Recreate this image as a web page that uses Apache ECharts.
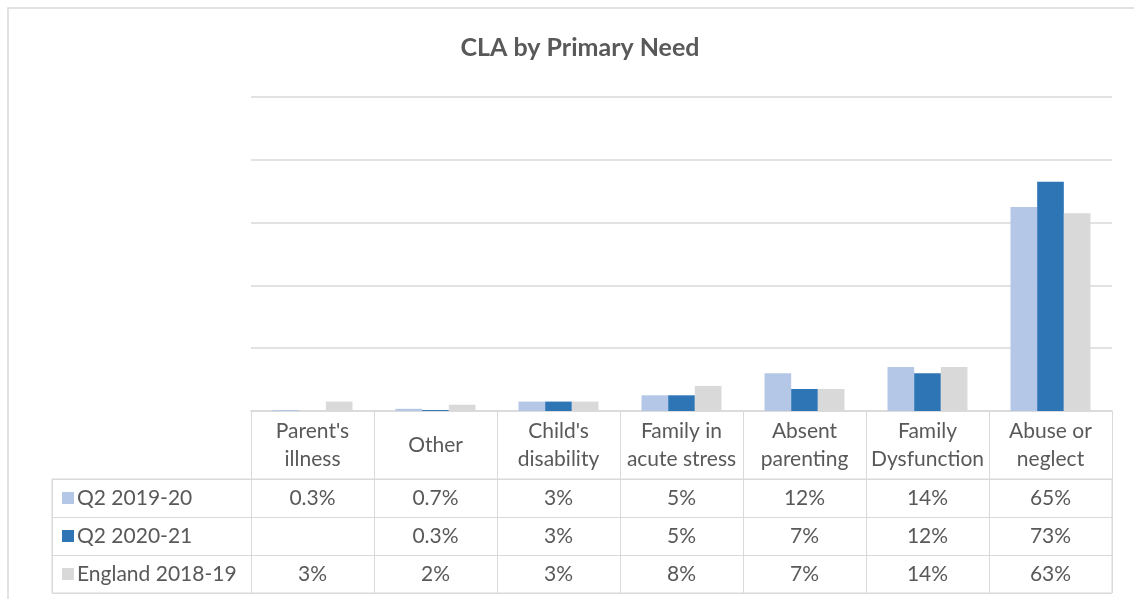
<!DOCTYPE html>
<html>
<head>
<meta charset="utf-8">
<title>CLA by Primary Need</title>
<script src="https://cdn.jsdelivr.net/npm/echarts@6/dist/echarts.min.js"></script>
<style>
  html, body { margin: 0; padding: 0; background: #fff; }
  #chart { width: 1134px; height: 599px; }
</style>
</head>
<body>
<div id="chart"></div>
<script>
// data (percent)
var categories = ["Parent's\nillness", 'Other', "Child's\ndisability", 'Family in\nacute stress', 'Absent\nparenting', 'Family\nDysfunction', 'Abuse or\nneglect']
var seriesNames = ['Q2 2019-20', 'Q2 2020-21', 'England 2018-19']
var q2_1920 = [0.3, 0.7, 3, 5, 12, 14, 65]
var q2_2021 = [null, 0.3, 3, 5, 7, 12, 73]
var england1819 = [3, 2, 3, 8, 7, 14, 63]
var yTicks = [0, 20, 40, 60, 80, 100]

var colors = ['#b4c7e7', '#2e75b6', '#d9d9d9']
var allData = [q2_1920, q2_2021, england1819]
var font = 'Lato, "Liberation Sans", sans-serif'
var textColor = '#595959'
var lineColor = '#d9d9d9'

var headerH = 68
var rowH = 38

function fmt(v) {
  return v == null ? '' : v + '%'
}

// one x axis per table row, only labels
var rowAxes = allData.map(function(d, i) {
  return {
    type: 'category',
    gridIndex: 0,
    position: 'bottom',
    offset: headerH + rowH * i,
    data: categories,
    axisLine: { show: false },
    axisTick: { show: false },
    axisLabel: {
      interval: 0,
      margin: 0,
      fontFamily: font,
      fontSize: 21,
      lineHeight: rowH,
      color: textColor,
      formatter: function(val, idx) { return fmt(d[idx]) }
    }
  }
})

var chart = echarts.init(document.getElementById('chart'))
chart.setOption({
  animation: false,
  title: {
    text: 'CLA by Primary Need',
    left: 575,
    textAlign: 'center',
    top: 30,
    textStyle: { fontFamily: font, fontSize: 25, fontWeight: 'bold', color: textColor }
  },
  graphic: [{
    type: 'rect',
    shape: { x: 8, y: 8, width: 1200, height: 700 },
    style: { fill: 'none', stroke: lineColor, lineWidth: 1.5 },
    silent: true
  }],
  grid: [
    { left: 251, right: 22, top: 97, height: 314 },
    { left: 52, right: 22, top: 479, height: rowH * 3, show: true, borderColor: lineColor, borderWidth: 1 }
  ],
  xAxis: [{
    type: 'category',
    gridIndex: 0,
    data: categories,
    axisLine: { lineStyle: { color: lineColor, width: 1.5 } },
    axisTick: { show: true, length: headerH + rowH * 3, lineStyle: { color: lineColor } },
    axisLabel: {
      interval: 0,
      margin: headerH / 2,
      verticalAlign: 'middle',
      fontFamily: font,
      fontSize: 21,
      lineHeight: 28,
      color: textColor
    }
  }].concat(rowAxes).concat([{
    type: 'value',
    gridIndex: 1,
    show: false
  }]),
  yAxis: [{
    type: 'value',
    gridIndex: 0,
    min: 0,
    max: 100,
    interval: yTicks[1] - yTicks[0],
    axisLabel: { show: false },
    axisLine: { show: false },
    axisTick: { show: false },
    splitLine: { lineStyle: { color: lineColor, width: 1.5 } }
  }, {
    type: 'category',
    gridIndex: 1,
    inverse: true,
    data: seriesNames,
    axisLine: { show: true, lineStyle: { color: lineColor } },
    axisTick: { show: false },
    splitLine: { show: true, lineStyle: { color: lineColor } },
    axisLabel: {
      inside: true,
      margin: 10,
      align: 'left',
      fontFamily: font,
      fontSize: 21,
      color: textColor,
      formatter: function(val, idx) { return '{s' + idx + '|}{t|' + val + '}' },
      rich: {
        s0: { width: 12, height: 12, backgroundColor: colors[0] },
        s1: { width: 12, height: 12, backgroundColor: colors[1] },
        s2: { width: 12, height: 12, backgroundColor: colors[2] },
        t: { fontFamily: font, fontSize: 21, color: textColor, padding: [0, 0, 0, 3] }
      }
    }
  }],
  series: allData.map(function(d, i) {
    return {
      name: seriesNames[i],
      type: 'bar',
      xAxisIndex: 0,
      yAxisIndex: 0,
      data: d,
      barGap: '0%',
      barCategoryGap: '35%',
      itemStyle: { color: colors[i] }
    }
  })
})
</script>
</body>
</html>
